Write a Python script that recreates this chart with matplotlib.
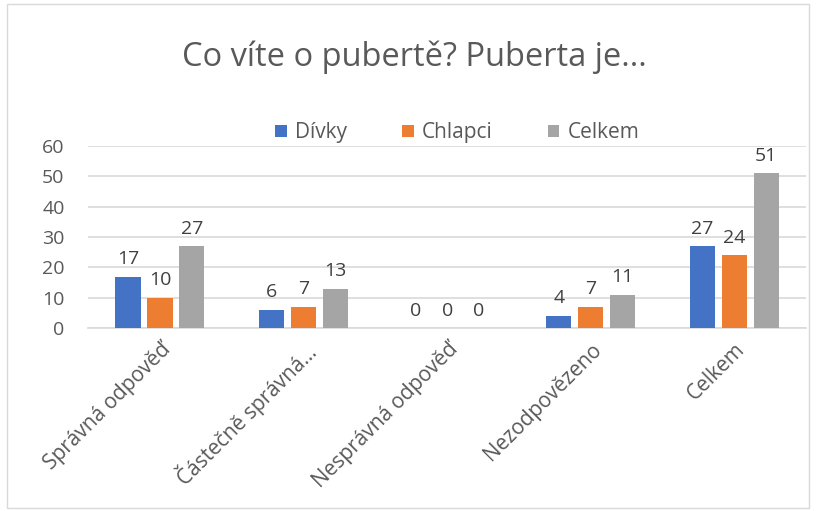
import matplotlib
matplotlib.use("Agg")
import matplotlib.pyplot as plt
import numpy as np
from matplotlib.patches import Rectangle

plt.rcParams['font.family'] = ['Open Sans', 'DejaVu Sans']

categories = ["Správná odpověď", "Částečně správná…", "Nesprávná odpověď",
              "Nezodpovězeno", "Celkem"]
divky = [17, 6, 0, 4, 27]
chlapci = [10, 7, 0, 7, 24]
celkem = [27, 13, 0, 11, 51]
series = [("Dívky", divky, "#4472C4"),
          ("Chlapci", chlapci, "#ED7D31"),
          ("Celkem", celkem, "#A5A5A5")]

TXT = "#595959"

fig = plt.figure(figsize=(8.16, 5.11), dpi=100)
ax = fig.add_axes([0.108, 0.358, 0.880, 0.356])

x = np.arange(len(categories))
w = 0.175
step = 0.222
for i, (name, vals, col) in enumerate(series):
    pos = x + (i - 1) * step
    bars = ax.bar(pos, vals, width=w, color=col, label=name, zorder=3)
    for b, v in zip(bars, vals):
        ax.text(b.get_x() + b.get_width() / 2, v + 2.8, str(v),
                ha="center", va="bottom", fontsize=14, color="#404040")

ax.set_xlim(-0.5, len(categories) - 0.5)
ax.set_ylim(0, 60)
ax.set_yticks(range(0, 61, 10))
ax.yaxis.grid(True, color="#D9D9D9", linewidth=1.2, zorder=0)
ax.set_axisbelow(True)
for s in ["top", "right", "left"]:
    ax.spines[s].set_visible(False)
ax.spines["bottom"].set_color("#D9D9D9")
ax.spines["bottom"].set_linewidth(1.2)
ax.tick_params(axis="both", length=0, labelsize=14, colors=TXT)
ax.tick_params(axis="y", pad=17)
ax.set_xticks(x)
ax.set_xticklabels(categories, rotation=45, ha="right", rotation_mode="anchor",
                   fontsize=15, color=TXT)
ax.tick_params(axis="x", pad=8)

leg = ax.legend(loc="lower center", bbox_to_anchor=(0.514, 0.97), ncol=3,
                frameon=False, fontsize=15, handlelength=0.55, handleheight=0.55,
                columnspacing=2.65, handletextpad=0.4, borderaxespad=0)
for t in leg.get_texts():
    t.set_color(TXT)

fig.text(0.508, 0.888, "Co víte o pubertě? Puberta je...", ha="center",
         va="center", fontsize=23.5, color=TXT)

fig.patches.append(Rectangle((0.008, 0.006), 0.984, 0.986, transform=fig.transFigure,
                             fill=False, edgecolor="#D9D9D9", linewidth=1))

fig.savefig("out.png", dpi=100)
